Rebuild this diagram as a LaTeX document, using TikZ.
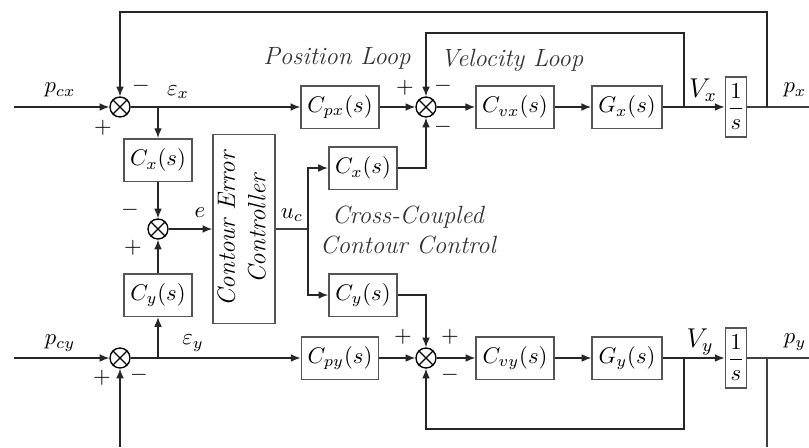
\documentclass[tikz,border=0pt]{standalone}
\usepackage{amsmath,amssymb}
\usepackage{graphicx}
\usepackage{tikz}
\usetikzlibrary{arrows.meta,calc}
\definecolor{boxgray}{HTML}{555555}
\tikzset{
  blockbox/.style={draw=boxgray,line width=0.7pt,minimum height=0.66cm,
    inner xsep=2.8pt,inner ysep=2pt,font=\normalsize},
  intbox/.style={draw=boxgray,line width=0.7pt,minimum height=0.93cm,
    minimum width=0.33cm,inner sep=1pt},
  sumnode/.style={circle,draw=black,line width=0.6pt,minimum size=0.31cm,inner sep=0pt,
    path picture={\draw[line width=0.5pt]
      (path picture bounding box.north west)--(path picture bounding box.south east)
      (path picture bounding box.south west)--(path picture bounding box.north east);}},
  sigflow/.style={-{Latex[length=1.5mm,width=1.2mm]},line width=0.6pt,draw=black!85},
  sigline/.style={line width=0.6pt,draw=black!75},
  looplabel/.style={font=\itshape\fontsize{11}{13.5}\selectfont,text=black!80},
  signlabel/.style={inner sep=0pt,font=\normalsize}
}

\begin{document}
\begin{tikzpicture}[x=0.0155cm,y=-0.0155cm]
\path[use as bounding box] (0,0) rectangle (809,447);
\node[sumnode] (sumx) at (120,107) {};
\node[sumnode] (sume) at (158,229) {};
\node[sumnode] (sumy) at (120,358) {};
\node[sumnode] (sumvx) at (426,107) {};
\node[sumnode] (sumvy) at (426,358) {};
\node[blockbox] (cx1) at (158,160) {$C_x(s)$};
\node[blockbox] (cy1) at (158,295) {$C_y(s)$};
\node[draw=boxgray,line width=0.7pt,minimum width=0.96cm,minimum height=2.93cm,inner sep=0pt]
  (ctrl) at (244,229) {\rotatebox{90}{\itshape\fontsize{11}{13.5}\selectfont
    \begin{tabular}{@{}c@{}}Contour Error\\Controller\end{tabular}}};
\node[blockbox] (cx2) at (363,168) {$C_x(s)$};
\node[blockbox] (cy2) at (363,295) {$C_y(s)$};
\node[blockbox] (cpx) at (340,107) {$C_{px}(s)$};
\node[blockbox] (cpy) at (340,358) {$C_{py}(s)$};
\node[blockbox] (cvx) at (515,107) {$C_{vx}(s)$};
\node[blockbox] (cvy) at (515,358) {$C_{vy}(s)$};
\node[blockbox] (gx) at (627,107) {$G_x(s)$};
\node[blockbox] (gy) at (627,358) {$G_y(s)$};
\node[intbox] (intx) at (736,107) {$\dfrac{1}{s}$};
\node[intbox] (inty) at (736,358) {$\dfrac{1}{s}$};
\coordinate (inx) at (14,107);
\coordinate (iny) at (14,358);
\coordinate (outx) at (809,107);
\coordinate (outy) at (809,358);
\coordinate (brx) at (158,107);
\coordinate (bry) at (158,358);
\coordinate (ucsplit) at (308,229);
\coordinate (vxtap) at (684,107);
\coordinate (vytap) at (684,358);
\coordinate (pxtap) at (767,107);
\coordinate (pytap) at (767,358);
\coordinate (pxtop) at (767,12);
\coordinate (vxtop) at (684,33);
\coordinate (vybot) at (684,429);
\coordinate (pybot) at (767,447);
\coordinate (pyin) at (120,447);

\draw[sigflow] (inx) -- (sumx);
\draw[sigflow] (sumx) -- (cpx);
\draw[sigflow] (brx) -- (cx1);
\draw[sigflow] (cx1) -- (sume);
\draw[sigflow] (cy1) -- (sume);
\draw[sigflow] (bry) -- (cy1);
\draw[sigflow] (sume) -- (ctrl);
\draw[sigline] (ctrl.east |- ucsplit) -- (ucsplit);
\draw[sigflow] (ucsplit) |- (cx2);
\draw[sigflow] (ucsplit) |- (cy2);
\draw[sigflow] (cx2) -| (sumvx);
\draw[sigflow] (cy2) -| (sumvy);
\draw[sigflow] (cpx) -- (sumvx);
\draw[sigflow] (sumvx) -- (cvx);
\draw[sigflow] (cvx) -- (gx);
\draw[sigflow] (gx) -- (intx);
\draw[sigline] (intx) -- (outx);
\draw[sigflow] (vxtap) -- (vxtop) -| (sumvx);
\draw[sigflow] (pxtap) -- (pxtop) -| (sumx);
\draw[sigflow] (iny) -- (sumy);
\draw[sigflow] (sumy) -- (cpy);
\draw[sigflow] (pyin) -- (sumy);
\draw[sigflow] (cpy) -- (sumvy);
\draw[sigflow] (sumvy) -- (cvy);
\draw[sigflow] (cvy) -- (gy);
\draw[sigflow] (gy) -- (inty);
\draw[sigline] (inty) -- (outy);
\draw[sigflow] (vytap) -- (vybot) -| (sumvy);
\draw[sigline] (pytap) -- (pybot);

\node (pcxlabel) at (60,90) {$p_{cx}$};
\node (exlabel) at (178,92) {$\varepsilon_x$};
\node[signlabel] (sxminus) at (141,86) {$-$};
\node[signlabel] (sxplus) at (103,128) {$+$};
\node[signlabel] (seminus) at (130,210) {$-$};
\node[signlabel] (seplus) at (133,248) {$+$};
\node (elabel) at (200,213) {$e$};
\node (uclabel) at (292,215) {$u_c$};
\node (pcylabel) at (60,343) {$p_{cy}$};
\node (eylabel) at (193,343) {$\varepsilon_y$};
\node[signlabel] (syplus) at (102,378) {$+$};
\node[signlabel] (syminus) at (139,375) {$-$};
\node[looplabel] (posloop) at (337,58) {Position Loop};
\node[looplabel] (velloop) at (512,60) {Velocity Loop};
\node[signlabel] (svxplus) at (405,88) {$+$};
\node[signlabel] (svxminus) at (443,86) {$-$};
\node[signlabel] (svxminusb) at (443,127) {$-$};
\node (vxlabel) at (703,90) {\large$V_x$};
\node (pxlabel) at (795,90) {$p_x$};
\node[looplabel,align=center] (cccc) at (408,230) {Cross-Coupled\\Contour Control};
\node[signlabel] (svyplus) at (403,337) {$+$};
\node[signlabel] (svyplusb) at (450,337) {$+$};
\node[signlabel] (svyminus) at (450,375) {$-$};
\node (vylabel) at (700,342) {\large$V_y$};
\node (pylabel) at (795,342) {$p_y$};
\end{tikzpicture}
\end{document}
